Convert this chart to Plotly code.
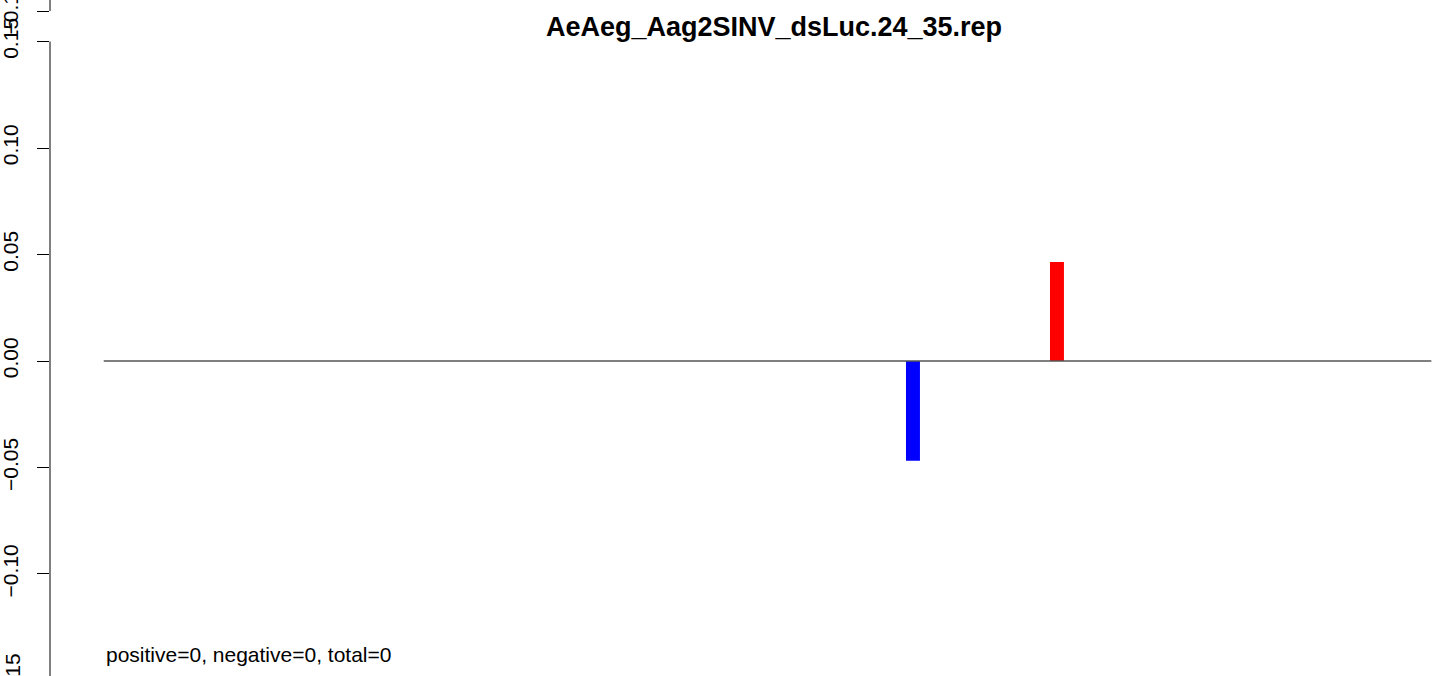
import plotly.graph_objects as go

# ---- data ----
title_text = "AeAeg_Aag2SINV_dsLuc.24_35.rep"
bar_pos = [1, 2]
bar_vals = [-0.0468, 0.0465]
bar_colors = ["#0000ff", "#ff0000"]
baseline_x = [-4.62, 4.60]
baseline_y = [0, 0]
tick_vals = [-0.10, -0.05, 0.00, 0.05, 0.10, 0.15, 0.1643]
tick_text = ["\u22120.10", "\u22120.05", "0.00", "0.05", "0.10", "0.15", "\u22120.15"]
bottom_tick_val = -0.15
bottom_tick_text = "\u22120.15"
footnote = "positive=0, negative=0, total=0"

FONT = "Liberation Sans, Arial, Helvetica, sans-serif"
Y_RANGE = [-0.1479, 0.1695]
H = 676

fig = go.Figure()
fig.add_trace(go.Scatter(x=baseline_x, y=baseline_y, mode="lines",
                         line=dict(color="#555555", width=1.5),
                         hoverinfo="skip", showlegend=False))
fig.add_trace(go.Bar(x=bar_pos, y=bar_vals, marker=dict(color=bar_colors, line=dict(width=0)),
                     width=0.097, showlegend=False))

# axis line segments (R style: from min tick to max tick)
fig.add_shape(type="line", xref="paper", yref="y", x0=0, x1=0, y0=bottom_tick_val, y1=0.15,
              line=dict(color="black", width=1))
fig.add_shape(type="line", xref="paper", yref="y", x0=0, x1=0, y0=0.1643, y1=Y_RANGE[1],
              line=dict(color="black", width=1))

# off-range bottom tick label, positioned via the axis scale converted to paper units
bottom_paper = (bottom_tick_val - Y_RANGE[0]) / (Y_RANGE[1] - Y_RANGE[0])
fig.add_annotation(x=0, xref="paper", y=bottom_paper, yref="paper", text=bottom_tick_text,
                   showarrow=False, textangle=-90, xanchor="center", yanchor="middle",
                   xshift=-38, font=dict(family=FONT, size=21, color="black"))

fig.add_annotation(x=0.0385, xref="paper", y=1 - 654 / H, yref="paper", text=footnote,
                   showarrow=False, xanchor="left", yanchor="middle",
                   font=dict(family=FONT, size=21, color="black"))

fig.update_layout(
    width=1441, height=H,
    margin=dict(l=50, r=0, t=0, b=0),
    paper_bgcolor="white", plot_bgcolor="white",
    title=dict(text=title_text, xref="container", yref="container",
               x=774 / 1441, y=1 - 27 / H, xanchor="center", yanchor="middle",
               font=dict(family=FONT, size=27, color="black", weight="bold")),
    xaxis=dict(range=[-4.993, 4.667], visible=False, fixedrange=True),
    yaxis=dict(range=Y_RANGE, tickvals=tick_vals, ticktext=tick_text,
               ticks="outside", ticklen=12, tickwidth=1, tickcolor="black",
               tickangle=-90, showgrid=False, zeroline=False, showline=False,
               automargin=False, ticklabelstandoff=11, ticklabeloverflow="allow",
               tickfont=dict(family=FONT, size=21, color="black")),
    showlegend=False,
)

fig.write_html("out.html", config={"displayModeBar": False},
               post_script="document.body.style.margin='0px';")
